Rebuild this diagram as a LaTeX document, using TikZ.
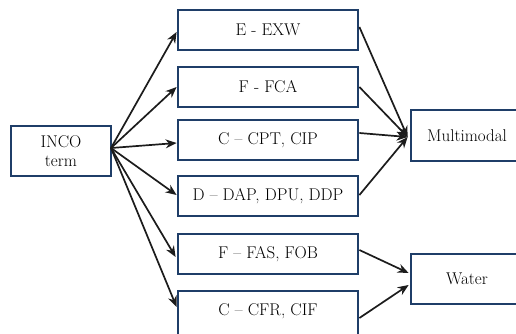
\documentclass[tikz,border=0pt]{standalone}
\usetikzlibrary{arrows.meta,calc}
\definecolor{boxblue}{RGB}{31,62,104}
\definecolor{arrowgray}{RGB}{28,28,28}
\tikzset{
  termfont/.style={font=\rmfamily\fontsize{17}{19.5}\selectfont},
  termbox/.style={draw=boxblue, line width=2.8pt, fill=white, inner sep=0pt,
    minimum width=#1, termfont, align=center},
  termbox/.default=180pt,
  link/.style={draw=arrowgray, line width=1.7pt,
    -{Stealth[length=11pt,width=9pt]}},
}
\begin{document}
\begin{tikzpicture}[x=1pt,y=-1pt]
  \useasboundingbox (0,0) rectangle (516,333);
  \clip (0,0) rectangle (516,333);

  % source box
  \node[termbox=100pt, minimum height=50pt] (inco) at (61,151) {INCO\\term};

  % delivery term groups
  \node[termbox, minimum height=40pt] (exw) at (268,30)  {E - EXW};
  \node[termbox, minimum height=40pt] (fca) at (268,87)  {F - FCA};
  \node[termbox, minimum height=40pt] (cpt) at (268,140) {C -- CPT, CIP};
  \node[termbox, minimum height=40pt] (dap) at (268,196) {D -- DAP, DPU, DDP};
  \node[termbox, minimum height=40pt] (fas) at (268,254) {F -- FAS, FOB};
  \node[termbox, minimum height=46pt] (cfr) at (268,314) {};
  \node[termfont] at (268,311) {C -- CFR, CIF};

  % transport modes
  \node[termbox=112pt, minimum height=51pt] (multi) at (467,135.5) {Multimodal};
  \node[termbox=112pt, minimum height=50pt] (water) at (467,279) {Water};

  % fan-out from the source box
  \coordinate (src) at (111,148);
  \draw[link] (src) -- ($(exw.west)+(0,2)$);
  \draw[link] (src) -- (fca.west);
  \draw[link] (src) -- ($(cpt.west)+(0,3)$);
  \draw[link] (src) -- ($(dap.west)+(0,-1)$);
  \draw[link] (src) -- ($(fas.west)+(-1,3)$);
  \draw[link] (src) -- ($(cfr.west)+(0,-7)$);

  % multimodal terms
  \coordinate (mm) at ($(multi.west)+(-2,1.5)$);
  \draw[link] ($(exw.east)+(0,-3)$) -- (mm);
  \draw[link] (fca.east) -- (mm);
  \draw[link] ($(cpt.east)+(0,-7)$) -- (mm);
  \draw[link] ($(dap.east)+(0,-1)$) -- (mm);

  % waterway terms
  \draw[link] ($(fas.east)+(0,-4)$) -- ($(water.west)+(-1,-6)$);
  \draw[link] ($(cfr.east)+(0,4)$) -- ($(water.west)+(-1,6)$);
\end{tikzpicture}
\end{document}
